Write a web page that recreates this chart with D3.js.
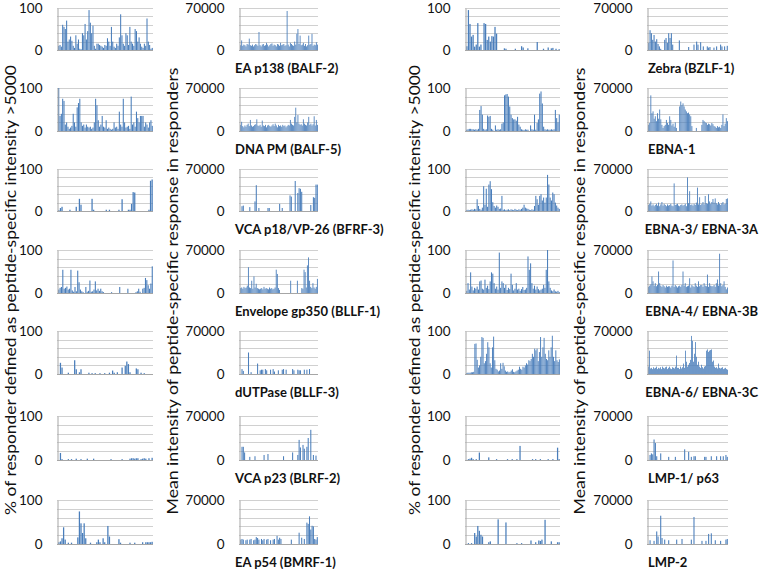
<!DOCTYPE html>
<html><head><meta charset="utf-8">
<script src="https://cdn.jsdelivr.net/npm/d3@7"></script>
<style>html,body{margin:0;padding:0;background:#fff;} svg{display:block;}</style>
</head><body><svg id="chart" width="762" height="569"></svg>
<script>
// ---------- DATA ----------
const leftProteins = ["EA p138 (BALF-2)", "DNA PM (BALF-5)", "VCA p18/VP-26 (BFRF-3)", "Envelope gp350 (BLLF-1)", "dUTPase (BLLF-3)", "VCA p23 (BLRF-2)", "EA p54 (BMRF-1)"];
const rightProteins = ["Zebra (BZLF-1)", "EBNA-1", "EBNA-3/ EBNA-3A", "EBNA-4/ EBNA-3B", "EBNA-6/ EBNA-3C", "LMP-1/ p63", "LMP-2"];
const pctTicks = [0, 100];
const intTicks = [0, 70000];
const pctTitle = "% of responder defined as peptide-specific intensity >5000";
const intTitle = "Mean intensity of peptide-specific response in responders";

const balf2Pct = [10,12,8,60,55,50,70,20,25,32,22,10,5,35,15,25,3,2,40,35,62,25,45,95,65,40,58,10,3,15,15,12,10,8,5,12,10,28,20,10,55,20,8,5,15,10,30,85,35,15,10,40,35,12,55,20,15,10,50,45,20,30,15,8,5,15,10,75,20,12,3,5];
const balf2Int = [8000,16000,7000,9000,8000,6000,10000,9000,19000,8000,7000,9000,6000,8000,10000,9000,7000,30000,8000,6000,9000,10000,7000,8000,12000,9000,6000,8000,10000,11000,7000,9000,8000,6000,10000,9000,7000,12000,8000,9000,10000,7000,8000,65000,9000,6000,12000,10000,8000,7000,14000,9000,27000,35000,10000,24000,8000,9000,12000,7000,10000,6000,8000,24000,9000,10000,27000,7000,9000,8000,13000,9000];
const balf5Pct = [100,35,40,75,70,15,20,10,5,8,12,40,20,10,55,65,75,20,12,15,8,15,10,8,10,5,8,20,75,60,25,10,15,35,10,8,25,5,8,5,3,5,20,8,10,5,45,15,10,75,20,8,10,12,5,80,15,20,10,45,30,20,35,35,35,10,20,15,8,20,25,12];
const balf5Int = [10000,15000,8000,6000,9000,7000,10000,12000,8000,18000,9000,7000,8000,10000,11000,19000,9000,8000,10000,7000,17000,9000,8000,10000,6000,9000,10000,8000,7000,9000,11000,8000,12000,9000,6000,10000,8000,9000,7000,10000,8000,9000,6000,8000,10000,9000,18000,12000,10000,9000,23000,38000,14000,26000,12000,10000,11000,9000,19000,12000,10000,9000,14000,23000,10000,12000,9000,11000,24000,9000,18000,10000];
const bfrf3Pct = [2,7,10,0,0,0,0,3,0,0, 0,10,0,29,15,0,0,0,0,0, 0,29,3,0,0,0,0,0,0,0, 3,0,3,0,0,0,0,0,3,0, 28,0,0,0,3,3,17,45,44,0, 0,0,0,0,0,0,0,3,72,75];
const bfrf3Int = [0,8000,9000,0,0,0,0,6500,0,0, 0,16000,43000,0,5000,0,0,0,0,0, 0,5000,5000,0,0,0,0,0,0,0, 12000,0,5000,0,0,0,0,0,26000,24000, 0,0,50000,0,30000,38000,37000,32000,0,0, 0,0,0,0,10000,0,23000,22000,44000,44000];
const bllf1Pct = [8,12,14,54,10,12,15,8,10,54, 6,3,14,4,52,25,8,4,2,0, 14,3,5,29,3,4,8,27,6,10, 5,10,4,2,0,0,0,0,0,2, 0,0,0,0,0,14,0,0,0,0, 0,10,0,0,0,0,0,2,4,10, 3,0,10,12,35,30,18,10,22,62];
const bllf1Int = [8000,9000,7000,10000,8000,9000,12000,42000,9000,8000, 20000,7000,27000,9000,15000,8000,7000,6000,7000,8000, 6000,10000,7000,8000,7000,6000,9000,7000,8000,6000, 7000,9000,38000,31000,8000,5000,0,0,0,0, 0,0,0,0,0,20000,0,0,0,0, 0,20000,0,0,0,8000,7000,38000,34000,9000, 45000,58000,20000,10000,8000,16000,9000,7000,10000,23000];
const bllf3Pct = [0,26,15,0,0,0,3,0,0,0, 32,11,0,4,11,0,0,0,0,3, 0,2,0,2,0,0,2,0,0,2, 0,0,3,0,8,3,0,4,0,0, 15,0,19,29,23,4,0,0,0,13, 11,0,3,0,2,0,0,0,0,0];
const bllf3Int = [0,8000,5000,0,0,0,35000,0,3000,0, 0,0,0,17000,0,6000,7000,7000,0,8000, 6000,0,0,7000,0,8000,4000,0,0,6000, 0,0,7000,8000,0,7000,0,0,0,0, 8000,6000,0,0,7000,6000,6000,0,0,7000, 0,7000,0,8000,0,0,0,0,0,0];
const blrf2Pct = [0,16,2,0,0,0,2,0,2,0, 0,3,0,0,2,0,0,0,3,0, 0,0,3,0,0,0,0,0,0,0, 0,0,0,2,0,0,0,0,0,0, 2,0,0,0,0,3,4,4,3,4, 4,0,2,3,4,3,0,4,0,5];
const blrf2Int = [0,21000,21000,12000,0,0,0,5000,0,0, 0,6000,0,0,0,0,0,0,8000,0, 0,9500,0,0,0,0,0,0,0,0, 0,0,0,6000,0,0,0,0,0,0, 12000,0,0,0,8000,32000,20000,0,24000,18000, 0,21000,35000,0,48000,0,8000,0,7000,0];
const bmrf1Pct = [4,6,13,38,10,0,3,0,3,0, 0,0,15,74,47,25,47,13,0,0, 3,0,0,0,4,10,4,0,13,4, 0,41,17,0,0,0,0,0,11,3, 0,0,0,0,0,3,0,0,3,0, 0,0,0,4,0,4,4,4,4,5];
const bmrf1Int = [7000,8000,7000,0,6000,7000,0,7000,8000,0, 6000,7000,11000,9500,7000,0,8000,6000,8000,0, 7000,8000,0,6000,0,7000,8000,0,13000,7000, 10000,8000,0,0,0,0,0,0,0,7000, 0,0,0,0,0,18000,0,10000,0,8000, 0,34000,32000,44000,23000,29000,28000,8000,7000,11000];

const bzlf1Pct = [9,95,62,32,36,8,13,64,8,13, 0,64,62,24,32,20,33,32,55,39, 0,0,0,0,4,3,0,0,0,0, 0,3,0,0,0,9,6,0,0,4, 0,0,0,0,0,19,0,0,0,3, 0,0,6,0,4,5,0,3,0,2];
const bzlf1Int = [12000,33000,28000,17000,25000,14000,18000,10000,6000,2000, 0,0,17000,20000,12000,28000,20000,28000,9000,0, 0,0,0,16000,0,0,0,0,0,0, 5000,0,0,0,9000,0,14000,9000,0,13000, 0,6000,0,0,6000,4000,5000,0,0,4000, 0,6000,0,0,9000,6000,0,6000,0,7000];
const ebna1Pct = [3,4,5,5,4,4,3,4,3,5, 49,58,38,5,3,4,36,33,35,5, 3,0,13,3,4,3,4,17,20,83, 85,86,80,57,38,30,27,27,24,33, 15,10,4,3,2,4,3,3,0,13, 4,3,38,3,19,27,87,92,64,10, 4,3,4,3,3,4,3,4,49,30, 20,38];
const ebna1Int = [10000,13000,58000,29000,32000,20000,24000,16000,29000,20000, 35000,19000,10000,5000,8000,10000,18000,13000,10000,24000, 18000,9000,12000,7000,14000,5000,0,0,40000,48000, 42000,45000,40000,35000,32000,29000,30000,27000,24000,8000, 0,0,0,5000,0,0,0,0,10000,18000, 16000,14000,13000,10000,12000,11000,9000,13000,11000,8000, 7000,5000,8000,6000,7000,5000,10000,27000,8000,12000, 21000,16000];
const ebna3aPct = [2,3,2,3,4,3,5,4,28,12, 5,3,8,59,15,53,10,63,71,52, 21,12,8,13,10,5,6,36,3,4, 2,3,4,2,4,3,2,5,3,2, 4,3,5,8,15,8,6,5,3,2, 4,3,12,36,28,15,36,40,25,32, 20,32,86,63,32,25,44,40,20,13, 8,5];
const ebna3aInt = [10000,12000,16000,9000,11000,8000,10000,12000,9000,14000, 8000,11000,15000,9000,12000,10000,8000,11000,9000,10000, 12000,9000,8000,46000,10000,11000,12000,9000,8000,10000, 11000,9000,10000,12000,8000,56000,13000,33000,10000,11000, 9000,12000,10000,14000,39000,11000,23000,10000,12000,15000, 11000,25000,13000,12000,28000,16000,12000,15000,20000,14000, 21000,13000,11000,15000,12000,10000,13000,15000,11000,12000, 20000,21000];
const ebna3bPct = [5,23,8,48,15,6,12,10,15,8, 27,29,10,8,31,12,17,9,27,48, 45,23,10,15,8,94,12,27,23,12, 19,7,12,9,45,19,6,10,23,8, 10,5,9,14,7,8,12,85,54,69, 23,10,17,8,15,9,6,8,10,19, 12,54,100,27,12,6,4,8,4,3, 5,2];
const ebna3bInt = [10000,12000,14000,27000,19000,12000,16000,11000,13000,35000, 16000,12000,10000,13000,11000,9000,12000,10000,11000,11000, 9000,12000,53000,10000,13000,11000,9000,11000,12000,10000, 13000,35000,12000,16000,10000,11000,12000,24000,9000,13000, 11000,10000,16000,12000,10000,19000,11000,13000,13000,10000, 16000,12000,11000,30000,10000,16000,12000,11000,11000,13000, 10000,16000,22000,12000,64000,16000,11000,13000,19000,10000, 6000,9000];
const ebna3cPct = [2,3,3,3,4,4,5,70,71,33, 15,20,40,86,84,25,30,47,74,62, 25,15,62,87,32,12,10,6,8,25, 12,26,18,8,5,6,4,5,8,11, 5,4,6,8,10,17,12,10,17,15, 20,25,22,32,30,35,47,40,59,55, 59,30,51,86,40,62,84,47,35,32, 55,40,62,89,40,30,55,32,28,34];
const ebna3cInt = [12000,38000,9000,10000,8000,11000,9000,10000,12000,8000, 10000,9000,11000,8000,12000,10000,9000,11000,12000,8000, 10000,12000,9000,8000,11000,10000,9000,12000,30000,10000, 10000,8000,12000,9000,11000,17000,10000,38000,20000,12000, 15000,18000,23000,62000,54000,20000,33000,52000,28000,15000, 20000,12000,10000,15000,11000,9000,12000,13000,38000,40000, 36000,38000,39000,40000,20000,22000,12000,10000,11000,9000, 17000,10000,9000,10000,11000,8000,9000,10000,8000,7000];
const lmp1Pct = [0,2,3,5,2,0,2,0,17,0, 0,0,0,0,6,0,0,0,0,2, 0,0,0,0,0,0,2,0,0,2, 0,0,2,0,32,0,0,0,0,0, 0,0,2,0,2,0,0,2,0,0, 0,0,2,0,0,2,0,0,28,2];
const lmp1Int = [0,8000,10500,9000,32600,27000,6000,0,0,10500, 0,0,0,0,0,5000,0,0,0,0, 5000,0,0,0,0,0,0,17000,0,0, 13000,0,5000,0,6000,6000,0,0,0,0, 0,0,5000,5000,0,0,0,6000,0,0, 0,6000,0,0,6000,0,6000,0,8000,5000];
const lmp2Pct = [0,2,0,2,0,25,17,41,30,21, 17,0,0,0,4,6,0,0,0,0, 56,0,0,0,0,49,0,0,0,0, 0,0,2,0,0,2,0,0,0,0, 0,8,0,0,4,0,8,7,10,0, 55,0,0,0,6,0,0,0,4,4];
const lmp2Int = [0,6000,0,0,5000,0,20000,12000,0,45000, 9500,0,7000,0,0,6000,0,0,0,0, 0,7000,0,0,0,8000,0,0,0,0, 0,0,7000,0,43000,0,0,0,0,0, 5000,0,0,5000,0,16000,0,17000,0,0, 6000,0,0,0,5000,0,0,0,7000,8000];

const leftPct = [balf2Pct, balf5Pct, bfrf3Pct, bllf1Pct, bllf3Pct, blrf2Pct, bmrf1Pct];
const leftInt = [balf2Int, balf5Int, bfrf3Int, bllf1Int, bllf3Int, blrf2Int, bmrf1Int];
const rightPct = [bzlf1Pct, ebna1Pct, ebna3aPct, ebna3bPct, ebna3cPct, lmp1Pct, lmp2Pct];
const rightInt = [bzlf1Int, ebna1Int, ebna3aInt, ebna3bInt, ebna3cInt, lmp1Int, lmp2Int];

// ---------- LAYOUT ----------
const FONT = "Lato, 'Liberation Sans', Arial, sans-serif";
const BAR = "#4A7EBB", GRID = "#D0D0D0", AXIS = "#A6A6A6";
const colX = [[57,153],[239,318],[465,560],[647,728]];
const rowTop = [8,88,169,250,331,416,500];
const rowBase = [50,131,211,293,374,460,544];

const svg = d3.select("#chart");

function panel(x0, x1, top, base, values, ticks) {
  const maxV = ticks[ticks.length - 1];
  const g = svg.append("g");
  const x = d3.scaleBand().domain(d3.range(values.length)).range([x0 + 1, x1]).paddingInner(0.2).paddingOuter(0.15);
  const y = d3.scaleLinear().domain([0, maxV]).range([base, top]);
  const gridVals = d3.range(1, 6).map(i => maxV * i / 5);
  g.selectAll("line.grid").data(gridVals).join("line").attr("class", "grid")
    .attr("x1", x0).attr("x2", x1)
    .attr("y1", d => Math.round(y(d)) + 0.5).attr("y2", d => Math.round(y(d)) + 0.5)
    .attr("stroke", GRID).attr("stroke-width", 1);
  g.selectAll("rect").data(values).join("rect")
    .attr("x", (d, i) => x(i)).attr("width", x.bandwidth())
    .attr("y", d => y(d)).attr("height", d => base - y(d))
    .attr("fill", BAR);
  const ax = d3.axisLeft(y).tickValues(ticks).tickSize(0).tickSizeOuter(0).tickPadding(15).tickFormat(d3.format("d"));
  const axg = g.append("g").attr("transform", `translate(${x0 + 0.5},0)`).call(ax);
  axg.select(".domain").attr("stroke", AXIS);
  axg.selectAll("text").attr("font-family", FONT).attr("font-size", "13.5px").attr("fill", "#111");
  g.append("line").attr("x1", x0).attr("x2", x1).attr("y1", base + 0.5).attr("y2", base + 0.5).attr("stroke", AXIS);
}

function label(text, xLeft, base) {
  const t = svg.append("text").text(text)
    .attr("x", xLeft).attr("y", base + 18)
    .attr("dominant-baseline", "central")
    .attr("font-family", FONT).attr("font-size", "13px").attr("font-weight", "bold").attr("fill", "#111");
  const w = t.node().getComputedTextLength();
  if (xLeft + w > 758) t.attr("x", 758 - w);
}

for (let r = 0; r < 7; r++) {
  panel(colX[0][0], colX[0][1], rowTop[r], rowBase[r], leftPct[r], pctTicks);
  panel(colX[1][0], colX[1][1], rowTop[r], rowBase[r], leftInt[r], intTicks);
  panel(colX[2][0], colX[2][1], rowTop[r], rowBase[r], rightPct[r], pctTicks);
  panel(colX[3][0], colX[3][1], rowTop[r], rowBase[r], rightInt[r], intTicks);
  label(leftProteins[r], 235, rowBase[r]);
  label(rightProteins[r], 648, rowBase[r]);
}

function title(text, cx, cy, len) {
  svg.append("text").text(text)
    .attr("transform", `translate(${cx},${cy}) rotate(-90)`)
    .attr("text-anchor", "middle").attr("dominant-baseline", "central")
    .attr("font-family", FONT).attr("font-size", "16px").attr("fill", "#111")
    .attr("textLength", len).attr("lengthAdjust", "spacingAndGlyphs");
}
title(pctTitle, 9, 290, 450);
title(intTitle, 171, 291, 447);
title(pctTitle, 413, 290, 450);
title(intTitle, 578, 291, 447);
</script>
</body></html>
